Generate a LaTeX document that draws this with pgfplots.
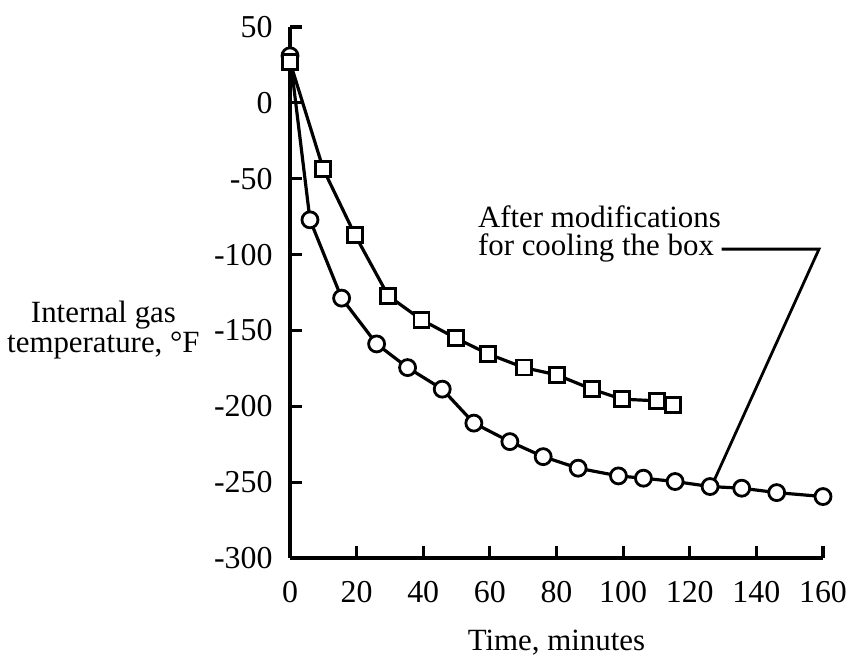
\documentclass[border=0pt]{standalone}
\usepackage{fontspec}
\setmainfont{Liberation Serif}
\usepackage{pgfplots}
\pgfplotsset{compat=1.18}

\begin{document}
\begin{tikzpicture}
\begin{axis}[
  name=main,
  scale only axis,
  width=533bp,
  height=531bp,
  xmin=0, xmax=160,
  ymin=-300, ymax=50,
  axis x line*=bottom,
  axis y line*=left,
  axis line style={line width=3.2pt},
  tick align=inside,
  major tick length=12bp,
  tick style={line width=3.2pt, black},
  xtick={0,20,...,160},
  xticklabels={0,20,40,60,80,100,120,140,160},
  ytick={-300,-250,...,50},
  yticklabels={-300,-250,-200,-150,-100,-50,0,50},
  tick label style={font=\fontsize{32}{32}\selectfont},
  xticklabel style={yshift=-20bp},
  yticklabel style={xshift=-14bp},
  clip=false,
  every axis plot/.append style={line width=3.2pt, black},
]
  % circles
  \addplot[mark=*, mark size=8bp, mark options={line width=2.8pt, fill=white}] coordinates {
    (0, 31)
    (6.0, -77.1)
    (15.5, -128.7)
    (26.0, -158.9)
    (35.3, -174.5)
    (45.7, -188.7)
    (55.2, -211.1)
    (66.0, -223.3)
    (76.0, -233.2)
    (86.5, -240.8)
    (98.6, -245.9)
    (106.1, -247.4)
    (115.6, -249.6)
    (126.1, -252.9)
    (135.6, -254.0)
    (146.1, -256.9)
    (160.0, -259.5)
  };
  % squares
  \addplot[mark=square*, mark size=7.5bp, mark options={line width=2.8pt, fill=white}] coordinates {
    (0, 27)
    (10.0, -43.7)
    (19.5, -87.0)
    (29.5, -127.2)
    (39.5, -143.0)
    (49.8, -155.1)
    (59.5, -165.5)
    (70.2, -174.5)
    (80.1, -179.3)
    (90.6, -188.7)
    (99.6, -195.3)
    (110.1, -196.4)
    (114.9, -199.1)
  };
  \node[anchor=west, align=left, inner sep=0pt,
        font=\fontsize{31}{28}\selectfont] at (axis cs:56.4,-86.5)
    {After modifications\\for cooling the box};
  \draw[line width=2.8pt] (axis cs:129.6,-96.4) -- (axis cs:158.8,-96.4) -- (axis cs:127.2,-249.5);
  \node[align=center, inner sep=0pt,
        font=\fontsize{31}{30}\selectfont] at (axis cs:-56,-149.6)
    {Internal gas\\temperature, °F};
  \node[font=\fontsize{31}{31}\selectfont] at (axis cs:80,-356) {Time, minutes};
\end{axis}
\pgfresetboundingbox
\path (main.south west) ++(-290bp,-101bp) rectangle ++(849bp,659bp);
\end{tikzpicture}
\end{document}
